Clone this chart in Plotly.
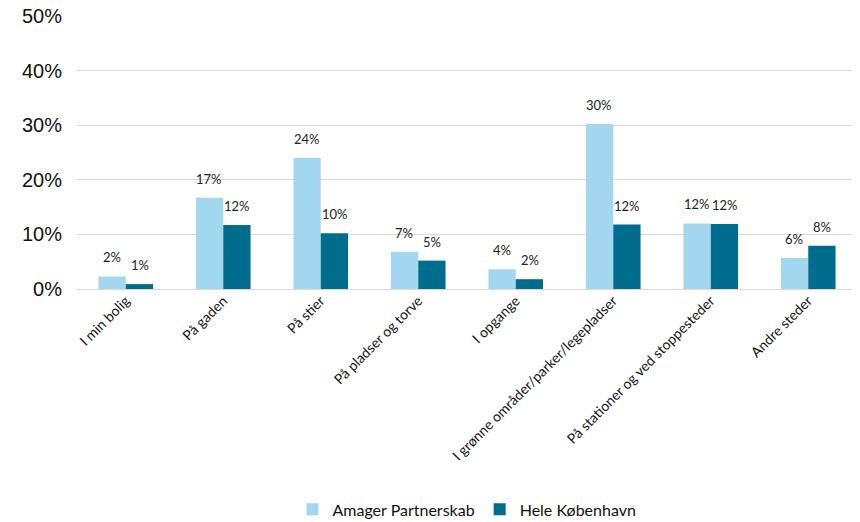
import plotly.graph_objects as go

categories = ["I min bolig", "På gaden", "På stier", "På pladser og torve", "I opgange",
              "I grønne områder/parker/legepladser", "På stationer og ved stoppesteder", "Andre steder"]
amager = [0.023, 0.167, 0.240, 0.068, 0.036, 0.302, 0.120, 0.057]
kbh = [0.009, 0.117, 0.102, 0.052, 0.018, 0.118, 0.119, 0.079]
amager_labels = ["2%", "17%", "24%", "7%", "4%", "30%", "12%", "6%"]
kbh_labels = ["1%", "12%", "10%", "5%", "2%", "12%", "12%", "8%"]
yticks = [0, 0.1, 0.2, 0.3, 0.4, 0.5]
ytick_text = ["0%", "10%", "20%", "30%", "40%", "50%"]

light = "#A3D7F0"
dark = "#006C8E"
label_font = dict(family="Lato, Open Sans, sans-serif", size=13, color="#222222")

fig = go.Figure()
fig.add_trace(go.Bar(x=categories, y=amager, name="Amager Partnerskab", marker_color=light,
                     marker_line_width=0))
fig.add_trace(go.Bar(x=categories, y=kbh, name="Hele København", marker_color=dark,
                     marker_line_width=0))

for i, c in enumerate(categories):
    fig.add_annotation(x=i, xshift=-14, y=amager[i], text=amager_labels[i], showarrow=False,
                       yanchor="bottom", yshift=9, font=label_font)
    fig.add_annotation(x=i, xshift=14, y=kbh[i], text=kbh_labels[i], showarrow=False,
                       yanchor="bottom", yshift=9, font=label_font)

fig.update_layout(
    width=860, height=522,
    margin=dict(l=69, r=11, t=8, b=241, autoexpand=False),
    barmode="group", bargap=0.44, bargroupgap=0,
    plot_bgcolor="white", paper_bgcolor="white",
    showlegend=True,
    legend=dict(orientation="h", x=0.5, xanchor="center", y=-0.745, yanchor="top",
                font=dict(family="Lato, Open Sans, sans-serif", size=16, color="#111111"),
                itemsizing="constant", traceorder="normal", itemwidth=30),
    xaxis=dict(tickangle=-45, tickfont=dict(family="Lato, Open Sans, sans-serif", size=14, color="#111111"),
               showgrid=False, showline=False, ticks="", automargin=False),
    yaxis=dict(range=[0, 0.5], tickvals=yticks, ticktext=ytick_text, ticklabeloverflow="allow",
               tickfont=dict(family="Liberation Sans, Arial, sans-serif", size=20, color="#111111"),
               showgrid=True, gridcolor="#D9D9D9", gridwidth=1, automargin=False,
               zeroline=True, zerolinecolor="#D9D9D9", zerolinewidth=1, ticks="", ticklabelstandoff=14),
)

fig.write_html("out.html")
